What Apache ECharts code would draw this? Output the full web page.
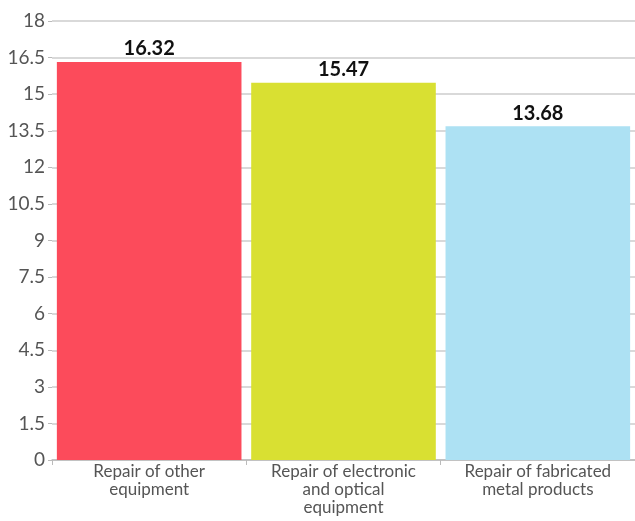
<!DOCTYPE html>
<html>
<head>
<meta charset="utf-8">
<script src="https://cdn.jsdelivr.net/npm/echarts@6/dist/echarts.min.js"></script>
<style>
  html, body { margin: 0; padding: 0; background: #fff; }
  #chart { width: 635px; height: 521px; }
</style>
</head>
<body>
<div id="chart"></div>
<script>
const categories = ['Repair of other\nequipment', 'Repair of electronic\nand optical\nequipment', 'Repair of fabricated\nmetal products']
const values = [16.32, 15.47, 13.68]
const barColors = ['#fc4b5b', '#d9e032', '#ade1f3']

const chart = echarts.init(document.getElementById('chart'))
chart.setOption({
  animation: false,
  grid: {
    left: 52,
    right: 0,
    top: 21,
    bottom: 61
  },
  xAxis: {
    type: 'category',
    data: categories,
    axisLine: { lineStyle: { color: '#bbb', width: 1.5 } },
    axisTick: { show: true, length: 5, lineStyle: { color: '#bbb' } },
    axisLabel: {
      color: '#555',
      fontFamily: 'Lato',
      fontSize: 17,
      lineHeight: 18,
      margin: 3,
      interval: 0
    }
  },
  yAxis: {
    type: 'value',
    min: 0,
    max: 18,
    interval: 1.5,
    axisLine: { show: false },
    axisTick: { show: true, length: 4, lineStyle: { color: '#bbb' } },
    splitLine: { lineStyle: { color: '#ccc', width: 1.5 } },
    axisLabel: {
      color: '#555',
      fontFamily: 'Lato',
      fontSize: 19,
      margin: 7
    }
  },
  series: [{
    type: 'bar',
    data: values.map((v, i) => ({ value: v, itemStyle: { color: barColors[i] } })),
    barCategoryGap: '5%',
    label: {
      show: true,
      position: 'top',
      color: '#111',
      fontFamily: 'Lato',
      fontWeight: 'bold',
      fontSize: 20,
      distance: 3
    }
  }]
})
</script>
</body>
</html>
